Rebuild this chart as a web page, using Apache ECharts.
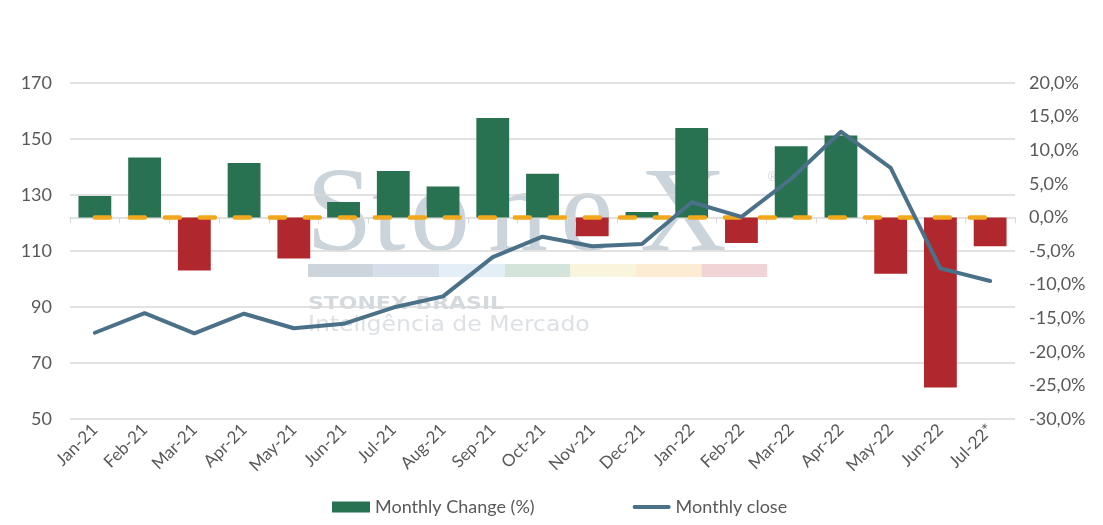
<!DOCTYPE html>
<html>
<head>
<meta charset="utf-8">
<script src="https://cdn.jsdelivr.net/npm/echarts@6/dist/echarts.min.js"></script>
<style>
html,body{margin:0;padding:0;background:#fff;}
#c{width:1103px;height:525px;}
</style>
</head>
<body>
<div id="c"></div>
<script>
const categories = ['Jan-21','Feb-21','Mar-21','Apr-21','May-21','Jun-21','Jul-21','Aug-21','Sep-21','Oct-21','Nov-21','Dec-21','Jan-22','Feb-22','Mar-22','Apr-22','May-22','Jun-22','Jul-22*'];
const monthlyChange = [3.2, 8.9, -7.9, 8.1, -6.1, 2.3, 6.9, 4.6, 14.8, 6.5, -2.8, 0.8, 13.3, -3.8, 10.6, 12.2, -8.4, -25.3, -4.3];
const monthlyClose = [80.8, 87.8, 80.6, 87.6, 82.4, 84.0, 89.8, 93.8, 107.8, 115.1, 111.7, 112.5, 127.4, 122.2, 135.8, 152.6, 139.7, 103.8, 99.3];
const zeroLine = categories.map(() => 0);
const leftTicks = {min: 50, max: 170, interval: 20};
const rightTicks = {min: -30, max: 20, interval: 5};

const green = '#287151';
const red = '#B0282E';
const lineColor = '#4B7189';
const txt = '#595959';
const gridC = '#d9d9d9';
const font = 'Lato, "Open Sans", sans-serif';

const chart = echarts.init(document.getElementById('c'));

const wm = [];
const wmLetters = [['S',306],['t',372],['o',410],['n',488],['e',560],['X',640]];
wmLetters.forEach(([ch,x]) => {
  wm.push({type:'text', z:-1, silent:true, left: x, top: 158,
    style:{text: ch, font: '400 120px "Liberation Serif", "DejaVu Serif", serif', fill:'#ccd4db'}});
});
wm.push({type:'text', z:-1, silent:true, left:768, top:171,
  style:{text:'®', font:'13px sans-serif', fill:'#ccd4db'}});
const stripeColors = ['#cdd5dc','#d6dfe9','#e3eef6','#d4e4da','#f8f5dc','#fcecd3','#f0d4d6'];
stripeColors.forEach((c,i) => {
  wm.push({type:'rect', z:-1, silent:true, shape:{x:308 + i*65.6, y:264, width:65.6, height:13}, style:{fill:c}});
});
wm.push({type:'text', z:-1, silent:true, left:308, top:295, scaleX:1.22,
  style:{text:'STONEX BRASIL', font:'bold 18px "DejaVu Sans", sans-serif', fill:'#d4d9de'}});
wm.push({type:'text', z:-1, silent:true, left:308, top:315, scaleX:1.12,
  style:{text:'Inteligência de Mercado', font:'21px "DejaVu Sans", sans-serif', fill:'#dde1e5'}});

chart.setOption({
  animation:false,
  backgroundColor:'#fff',
  textStyle:{fontFamily: font},
  grid:{left:70, right:88, top:83, bottom:106, containLabel:false},
  legend:{
    bottom:4, left:327, itemWidth:38, itemHeight:11, itemGap:98, symbolKeepAspect:true,
    textStyle:{color:txt, fontSize:18, fontFamily:font},
    data:[
      {name:'Monthly Change (%)', icon:'rect', itemStyle:{color:green}},
      {name:'Monthly close', icon:'path://M2,0h36a2,2 0 0 1 0,4h-36a2,2 0 0 1 0,-4z', itemStyle:{color:lineColor}}
    ]
  },
  xAxis:{
    type:'category', data:categories, boundaryGap:true,
    axisLine:{lineStyle:{color:gridC, width:1.5}},
    axisTick:{show:true, length:6, lineStyle:{color:gridC}},
    axisLabel:{rotate:45, color:txt, fontSize:17, margin:8, interval:0, fontFamily:font}
  },
  yAxis:[
    {type:'value', min:leftTicks.min, max:leftTicks.max, interval:leftTicks.interval,
     axisLine:{show:false}, axisTick:{show:false},
     splitLine:{lineStyle:{color:gridC, width:1.5}},
     axisLabel:{color:txt, fontSize:18, margin:18, fontFamily:font}},
    {type:'value', min:rightTicks.min, max:rightTicks.max, interval:rightTicks.interval,
     axisLine:{show:false}, axisTick:{show:false}, splitLine:{show:false},
     axisLabel:{color:txt, fontSize:18, margin:14, fontFamily:font,
       formatter: v => v.toFixed(1).replace('.', ',') + '%'}}
  ],
  graphic: wm,
  series:[
    {name:'Monthly Change (%)', type:'bar', yAxisIndex:1, data:monthlyChange, barCategoryGap:'34%',
     itemStyle:{color: p => p.value >= 0 ? green : red}, z:3},
    {name:'zero', type:'line', yAxisIndex:1, data:zeroLine, symbol:'none', silent:true,
     lineStyle:{color:'#F2A81D', width:4.5, type:[15,20], cap:'round'}, z:4},
    {name:'Monthly close', type:'line', yAxisIndex:0, data:monthlyClose, symbol:'none',
     lineStyle:{color:lineColor, width:4, cap:'round', join:'round'}, itemStyle:{color:lineColor}, z:5}
  ]
});
</script>
</body>
</html>
